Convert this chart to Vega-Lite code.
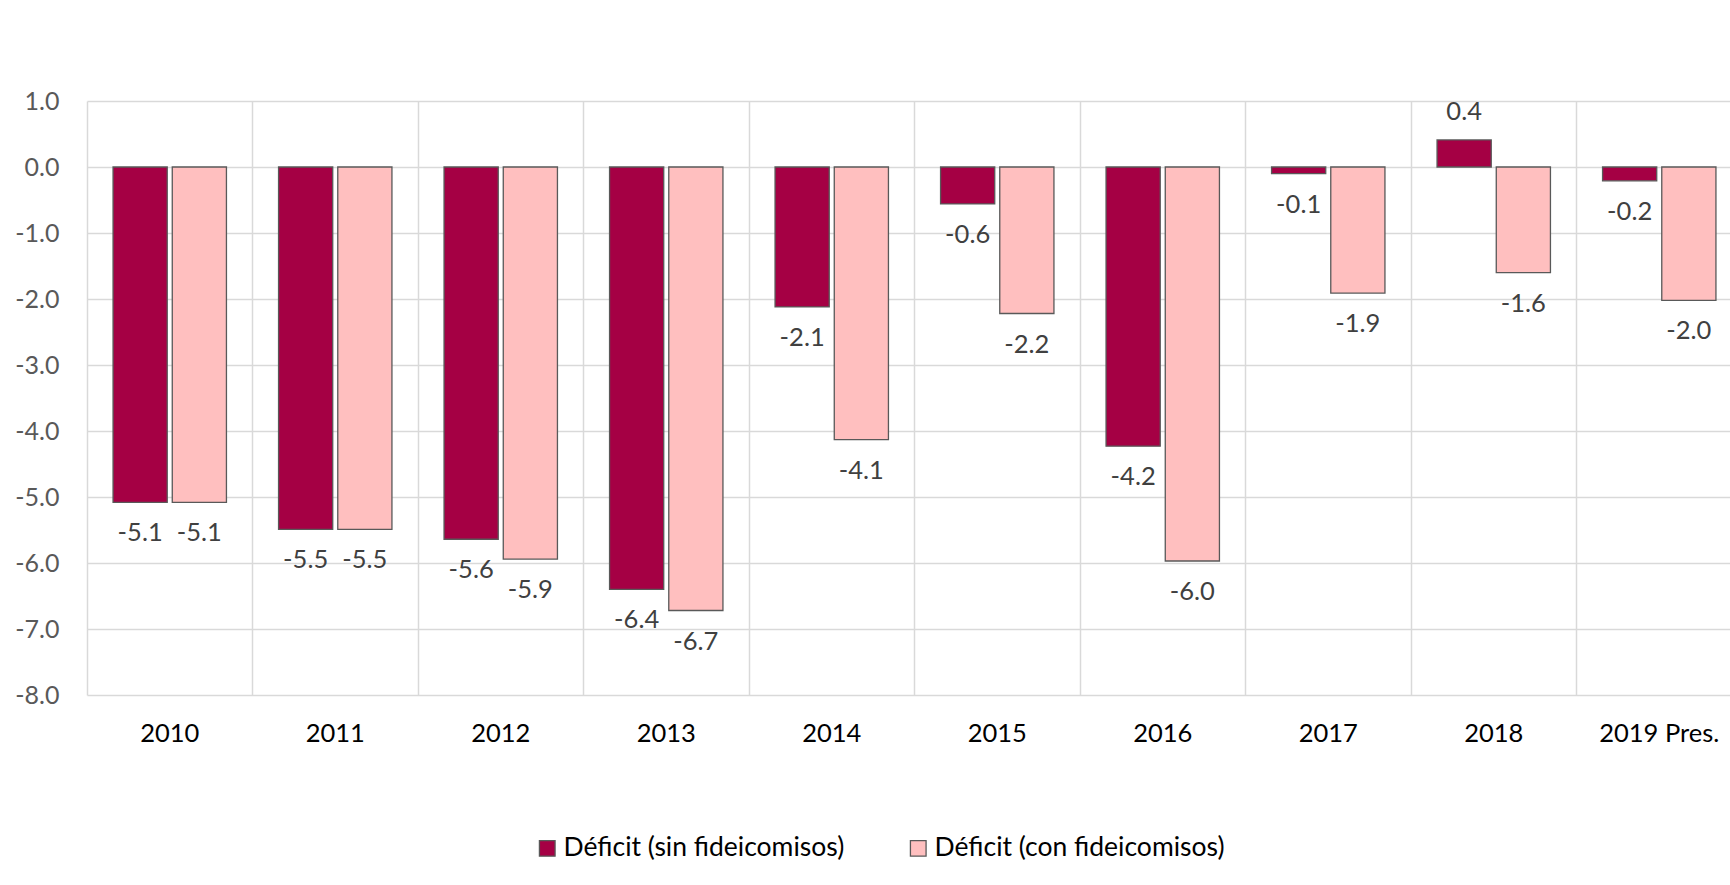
{
  "$schema": "https://vega.github.io/schema/vega-lite/v6.json",
  "autosize": {"type": "none"},
  "padding": {"left": 87, "top": 101, "right": 0, "bottom": 190},
  "width": 1643,
  "height": 594,
  "background": "#ffffff",
  "data": {
    "values": [
      {"year": "2010", "serie": "Déficit (sin fideicomisos)", "value": -5.08},
      {"year": "2010", "serie": "Déficit (con fideicomisos)", "value": -5.08},
      {"year": "2011", "serie": "Déficit (sin fideicomisos)", "value": -5.49},
      {"year": "2011", "serie": "Déficit (con fideicomisos)", "value": -5.49},
      {"year": "2012", "serie": "Déficit (sin fideicomisos)", "value": -5.64},
      {"year": "2012", "serie": "Déficit (con fideicomisos)", "value": -5.94},
      {"year": "2013", "serie": "Déficit (sin fideicomisos)", "value": -6.4},
      {"year": "2013", "serie": "Déficit (con fideicomisos)", "value": -6.72},
      {"year": "2014", "serie": "Déficit (sin fideicomisos)", "value": -2.12},
      {"year": "2014", "serie": "Déficit (con fideicomisos)", "value": -4.13},
      {"year": "2015", "serie": "Déficit (sin fideicomisos)", "value": -0.56},
      {"year": "2015", "serie": "Déficit (con fideicomisos)", "value": -2.22},
      {"year": "2016", "serie": "Déficit (sin fideicomisos)", "value": -4.23},
      {"year": "2016", "serie": "Déficit (con fideicomisos)", "value": -5.97},
      {"year": "2017", "serie": "Déficit (sin fideicomisos)", "value": -0.1},
      {"year": "2017", "serie": "Déficit (con fideicomisos)", "value": -1.91},
      {"year": "2018", "serie": "Déficit (sin fideicomisos)", "value": 0.41},
      {"year": "2018", "serie": "Déficit (con fideicomisos)", "value": -1.6},
      {"year": "2019 Pres.", "serie": "Déficit (sin fideicomisos)", "value": -0.21},
      {"year": "2019 Pres.", "serie": "Déficit (con fideicomisos)", "value": -2.02}
    ]
  },
  "encoding": {
    "x": {
      "field": "year",
      "type": "nominal",
      "sort": null,
      "scale": {"range": [0, 1655], "paddingInner": 0, "paddingOuter": 0},
      "axis": {
        "title": null,
        "bandPosition": 0,
        "labelAngle": 0,
        "domain": false,
        "ticks": false,
        "tickSize": 0,
        "grid": true,
        "gridColor": "#d9d9d9",
        "gridWidth": 1.5,
        "labelPadding": 26,
        "labelFont": "Lato",
        "labelFontSize": 25.5,
        "labelColor": "#000000",
        "labelBound": false,
        "labelOverlap": false
      }
    },
    "xOffset": {
      "field": "serie",
      "type": "nominal",
      "sort": ["Déficit (sin fideicomisos)", "Déficit (con fideicomisos)"],
      "scale": {"paddingInner": 0.085, "paddingOuter": 0.44}
    },
    "y": {
      "field": "value",
      "type": "quantitative",
      "scale": {"domain": [-8, 1], "nice": false, "zero": false},
      "axis": {
        "title": null,
        "values": [-8, -7, -6, -5, -4, -3, -2, -1, 0, 1],
        "format": ".1f",
        "labelExpr": "replace(datum.label, '\u2212', '-')",
        "domain": false,
        "ticks": false,
        "tickSize": 0,
        "grid": true,
        "gridColor": "#d9d9d9",
        "gridWidth": 1.5,
        "labelPadding": 28,
        "labelFont": "Lato",
        "labelFontSize": 25,
        "labelColor": "#595959"
      }
    }
  },
  "layer": [
    {
      "mark": {"type": "bar", "stroke": "#595959", "strokeWidth": 1.3},
      "encoding": {
        "y2": {"datum": 0},
        "color": {
          "field": "serie",
          "type": "nominal",
          "sort": ["Déficit (sin fideicomisos)", "Déficit (con fideicomisos)"],
          "scale": {
            "domain": ["Déficit (sin fideicomisos)", "Déficit (con fideicomisos)"],
            "range": ["#a50044", "#ffbfbf"]
          },
          "legend": {
            "title": null,
            "orient": "none",
            "legendX": 447,
            "legendY": 734,
            "direction": "horizontal",
            "padding": 0,
            "symbolType": "square",
            "symbolSize": 245,
            "symbolStrokeColor": "#595959",
            "symbolStrokeWidth": 1.3,
            "symbolOpacity": 1,
            "labelFont": "Lato",
            "labelFontSize": 26.5,
            "labelColor": "#000000",
            "labelOffset": 3,
            "labelLimit": 500,
            "columnPadding": 60
          }
        }
      }
    },
    {
      "transform": [{"filter": "datum.value < 0"}],
      "mark": {"type": "text", "baseline": "middle", "align": "center", "dy": 31, "font": "Lato", "fontSize": 25.5, "color": "#404040",
        "text": {"expr": "replace(format(datum.value, '.1f'), '\u2212', '-')"}},
      "encoding": {}
    },
    {
      "transform": [{"filter": "datum.value >= 0"}],
      "mark": {"type": "text", "baseline": "middle", "align": "center", "dy": -28, "font": "Lato", "fontSize": 25.5, "color": "#404040",
        "text": {"expr": "replace(format(datum.value, '.1f'), '\u2212', '-')"}},
      "encoding": {}
    }
  ],
  "config": {
    "view": {"stroke": null}
  }
}
